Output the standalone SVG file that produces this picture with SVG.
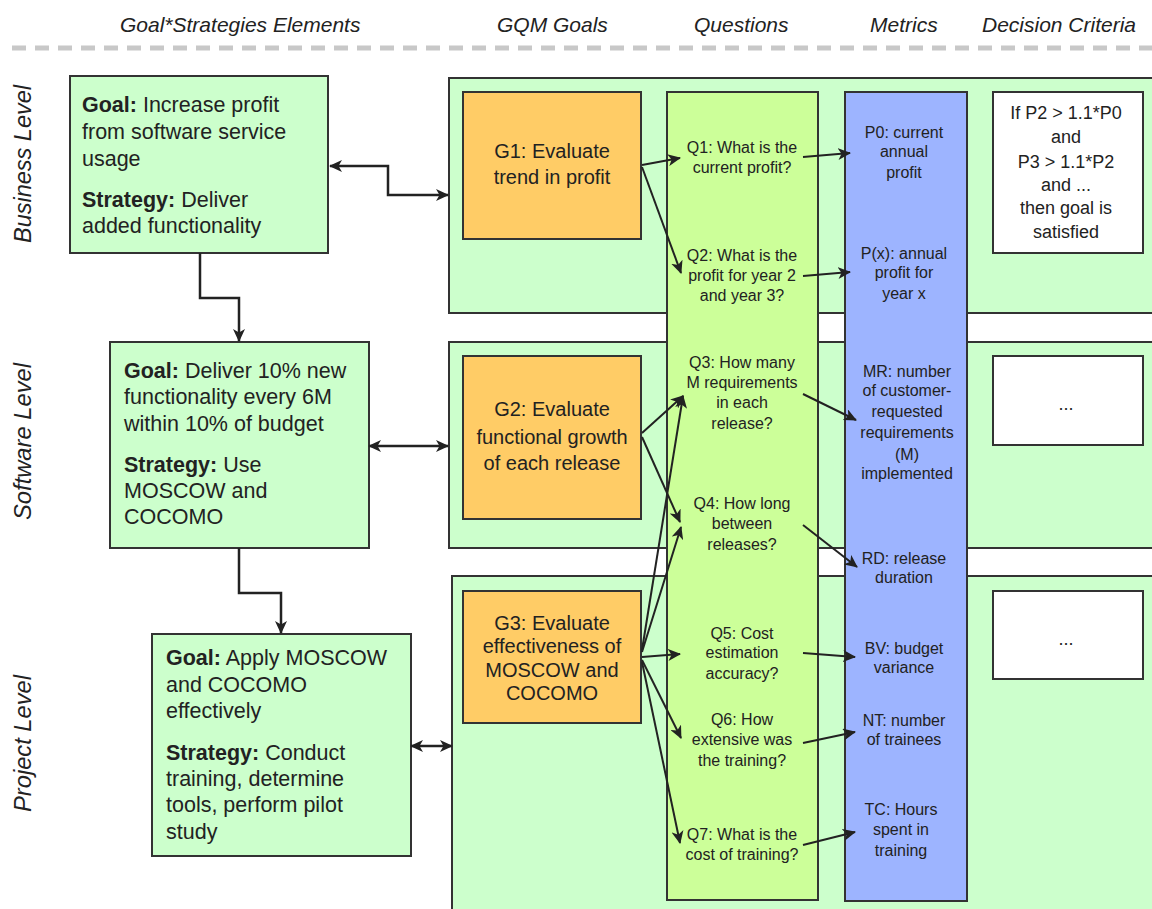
<svg xmlns="http://www.w3.org/2000/svg" width="1152" height="909" viewBox="0 0 1152 909">
<defs>
<style>
text{font-family:"Liberation Sans",Arial,sans-serif;fill:#222}
.hdr{font-size:21px;font-style:italic}
.row{font-size:23px;font-style:italic}
.box{fill:#CCFFCC;stroke:#333;stroke-width:2}
.goal{fill:#FFCC66;stroke:#333;stroke-width:2}
.qcol{fill:#CCFF99;stroke:#333;stroke-width:2}
.mcol{fill:#9DB4FF;stroke:#333;stroke-width:2}
.dc{fill:#fff;stroke:#333;stroke-width:2}
.lt{font-size:21.5px}
.gt{font-size:20px;text-anchor:middle}
.qt{font-size:16px;text-anchor:middle}
.mt{font-size:16px;text-anchor:middle}
.dt{font-size:18px;text-anchor:middle}
.conn{fill:none;stroke:#222;stroke-width:2.5}
.arr{fill:none;stroke:#222;stroke-width:2}
</style>
<marker id="ah" markerUnits="userSpaceOnUse" markerWidth="14" markerHeight="12" refX="12" refY="6" orient="auto-start-reverse">
<path d="M0,0 L13,6 L0,12 L3.5,6 Z" fill="#222"/>
</marker>
</defs>
<rect width="1152" height="909" fill="#fff"/>

<g id="header">
<text class="hdr" x="120" y="32">Goal*Strategies Elements</text>
<text class="hdr" x="497" y="32">GQM Goals</text>
<text class="hdr" x="694" y="32">Questions</text>
<text class="hdr" x="870" y="32">Metrics</text>
<text class="hdr" x="982" y="32" font-size="20.5">Decision Criteria</text>
<line x1="12" y1="48" x2="1152" y2="48" stroke="#c8c8c8" stroke-width="5" stroke-dasharray="14 9"/>
</g>

<g id="row-labels">
<text class="row" transform="translate(31,243) rotate(-90)" textLength="158" lengthAdjust="spacingAndGlyphs">Business Level</text>
<text class="row" transform="translate(31,520) rotate(-90)" textLength="157" lengthAdjust="spacingAndGlyphs">Software Level</text>
<text class="row" transform="translate(31,812) rotate(-90)" textLength="137" lengthAdjust="spacingAndGlyphs">Project Level</text>
</g>

<g id="panel-business"><rect class="box" x="449" y="78" width="715" height="235"/></g>
<g id="panel-software"><rect class="box" x="449" y="342" width="715" height="206"/></g>
<g id="panel-project"><rect class="box" x="452" y="576" width="712" height="345"/></g>

<g id="box-business">
<rect class="box" x="70" y="76" width="258" height="177"/>
<text class="lt" x="82" y="112"><tspan font-weight="bold">Goal:</tspan> Increase profit</text>
<text class="lt" x="82" y="139">from software service</text>
<text class="lt" x="82" y="166">usage</text>
<text class="lt" x="82" y="207"><tspan font-weight="bold">Strategy:</tspan> Deliver</text>
<text class="lt" x="82" y="233">added functionality</text>
</g>

<g id="box-software">
<rect class="box" x="110" y="342" width="259" height="206"/>
<text class="lt" x="124" y="378"><tspan font-weight="bold">Goal:</tspan> Deliver 10% new</text>
<text class="lt" x="124" y="404">functionality every 6M</text>
<text class="lt" x="124" y="431">within 10% of budget</text>
<text class="lt" x="124" y="472"><tspan font-weight="bold">Strategy:</tspan> Use</text>
<text class="lt" x="124" y="498">MOSCOW and</text>
<text class="lt" x="124" y="524">COCOMO</text>
</g>

<g id="box-project">
<rect class="box" x="152" y="634" width="259" height="222"/>
<text class="lt" x="166" y="665"><tspan font-weight="bold">Goal:</tspan> Apply MOSCOW</text>
<text class="lt" x="166" y="692">and COCOMO</text>
<text class="lt" x="166" y="718">effectively</text>
<text class="lt" x="166" y="760"><tspan font-weight="bold">Strategy:</tspan> Conduct</text>
<text class="lt" x="166" y="786">training, determine</text>
<text class="lt" x="166" y="812">tools, perform pilot</text>
<text class="lt" x="166" y="839">study</text>
</g>

<g id="G1">
<rect class="goal" x="463" y="92" width="178" height="147"/>
<text class="gt" x="552" y="158">G1: Evaluate</text>
<text class="gt" x="552" y="184">trend in profit</text>
</g>
<g id="G2">
<rect class="goal" x="463" y="356" width="178" height="163"/>
<text class="gt" x="552" y="416">G2: Evaluate</text>
<text class="gt" x="552" y="444">functional growth</text>
<text class="gt" x="552" y="470">of each release</text>
</g>
<g id="G3">
<rect class="goal" x="463" y="591" width="178" height="132"/>
<text class="gt" x="552" y="630" font-size="19">G3: Evaluate</text>
<text class="gt" x="552" y="653" font-size="19">effectiveness of</text>
<text class="gt" x="552" y="677" font-size="19">MOSCOW and</text>
<text class="gt" x="552" y="700" font-size="19">COCOMO</text>
</g>

<g id="questions">
<rect class="qcol" x="667" y="92" width="151" height="808"/>
<text class="qt" x="742" y="153">Q1: What is the</text>
<text class="qt" x="742" y="173">current profit?</text>
<text class="qt" x="742" y="261">Q2: What is the</text>
<text class="qt" x="742" y="281">profit for year 2</text>
<text class="qt" x="742" y="301">and year 3?</text>
<text class="qt" x="742" y="368">Q3: How many</text>
<text class="qt" x="742" y="388">M requirements</text>
<text class="qt" x="742" y="408">in each</text>
<text class="qt" x="742" y="429">release?</text>
<text class="qt" x="742" y="509">Q4: How long</text>
<text class="qt" x="742" y="529">between</text>
<text class="qt" x="742" y="550">releases?</text>
<text class="qt" x="742" y="639">Q5: Cost</text>
<text class="qt" x="742" y="658">estimation</text>
<text class="qt" x="742" y="679">accuracy?</text>
<text class="qt" x="742" y="725">Q6: How</text>
<text class="qt" x="742" y="745">extensive was</text>
<text class="qt" x="742" y="766">the training?</text>
<text class="qt" x="742" y="840">Q7: What is the</text>
<text class="qt" x="742" y="860">cost of training?</text>
</g>

<g id="metrics">
<rect class="mcol" x="845" y="92" width="122" height="809"/>
<text class="mt" x="904" y="138">P0: current</text>
<text class="mt" x="904" y="157">annual</text>
<text class="mt" x="904" y="178">profit</text>
<text class="mt" x="904" y="259">P(x): annual</text>
<text class="mt" x="904" y="278">profit for</text>
<text class="mt" x="904" y="299">year x</text>
<text class="mt" x="907" y="377">MR: number</text>
<text class="mt" x="907" y="396">of customer-</text>
<text class="mt" x="907" y="417">requested</text>
<text class="mt" x="907" y="438">requirements</text>
<text class="mt" x="907" y="460">(M)</text>
<text class="mt" x="907" y="479">implemented</text>
<text class="mt" x="904" y="564">RD: release</text>
<text class="mt" x="904" y="583">duration</text>
<text class="mt" x="904" y="654">BV: budget</text>
<text class="mt" x="904" y="673">variance</text>
<text class="mt" x="904" y="726">NT: number</text>
<text class="mt" x="904" y="745">of trainees</text>
<text class="mt" x="901" y="815">TC: Hours</text>
<text class="mt" x="901" y="835">spent in</text>
<text class="mt" x="901" y="856">training</text>
</g>

<g id="DC1">
<rect class="dc" x="993" y="92" width="150" height="161"/>
<text class="dt" x="1066" y="119">If P2 &gt; 1.1*P0</text>
<text class="dt" x="1066" y="143">and</text>
<text class="dt" x="1066" y="168">P3 &gt; 1.1*P2</text>
<text class="dt" x="1066" y="191">and ...</text>
<text class="dt" x="1066" y="214">then goal is</text>
<text class="dt" x="1066" y="238">satisfied</text>
</g>
<g id="DC2">
<rect class="dc" x="993" y="356" width="150" height="89"/>
<text class="dt" x="1066" y="410" font-size="14" fill="#444">...</text>
</g>
<g id="DC3">
<rect class="dc" x="993" y="591" width="150" height="88"/>
<text class="dt" x="1066" y="645" font-size="14" fill="#444">...</text>
</g>

<g id="connectors">
<path class="conn" d="M330,166 H388 V195 H448" marker-start="url(#ah)" marker-end="url(#ah)"/>
<path class="conn" d="M200,253 V298 H239 V341" marker-end="url(#ah)"/>
<path class="conn" d="M369,446 H448" marker-start="url(#ah)" marker-end="url(#ah)"/>
<path class="conn" d="M239,548 V593 H281 V633" marker-end="url(#ah)"/>
<path class="conn" d="M411,746 H452" marker-start="url(#ah)" marker-end="url(#ah)"/>
<path class="arr" d="M642,165 L680,158" marker-end="url(#ah)"/>
<path class="arr" d="M642,167 L681,273" marker-end="url(#ah)"/>
<path class="arr" d="M803,157 L850,153" marker-end="url(#ah)"/>
<path class="arr" d="M803,276 L850,272" marker-end="url(#ah)"/>
<path class="arr" d="M642,433 L683,396" marker-end="url(#ah)"/>
<path class="arr" d="M642,437 L680,522" marker-end="url(#ah)"/>
<path class="arr" d="M642,650 L683,396" marker-end="url(#ah)"/>
<path class="arr" d="M642,652 L681,527" marker-end="url(#ah)"/>
<path class="arr" d="M642,657 L680,654" marker-end="url(#ah)"/>
<path class="arr" d="M642,660 L681,738" marker-end="url(#ah)"/>
<path class="arr" d="M642,662 L680,843" marker-end="url(#ah)"/>
<path class="arr" d="M803,394 L856,420" marker-end="url(#ah)"/>
<path class="arr" d="M803,525 L857,567" marker-end="url(#ah)"/>
<path class="arr" d="M803,653 L855,657" marker-end="url(#ah)"/>
<path class="arr" d="M803,743 L855,732" marker-end="url(#ah)"/>
<path class="arr" d="M803,845 L855,832" marker-end="url(#ah)"/>
</g>
</svg>
